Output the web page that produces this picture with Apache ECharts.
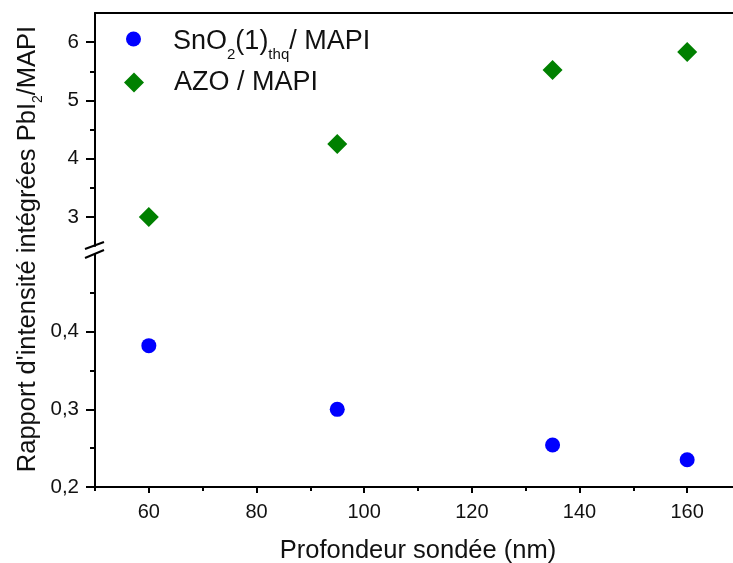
<!DOCTYPE html>
<html>
<head>
<meta charset="utf-8">
<script src="https://cdn.jsdelivr.net/npm/echarts@6/dist/echarts.min.js"></script>
<style>html,body{margin:0;padding:0;background:#fff}#c{width:733px;height:563px}</style>
</head>
<body>
<div id="c"></div>
<script>
// ---- data ----
const depth = [60, 95, 135, 160];
const sno2 = [0.382, 0.300, 0.254, 0.235];
const azo = [3.00, 4.25, 5.52, 5.83];
const xMajorTicks = [60, 80, 100, 120, 140, 160];
const xMinorTicks = [50, 70, 90, 110, 130, 150, 170];
const yTopMajor = [3, 4, 5, 6];
const yTopMinor = [3.5, 4.5, 5.5];
const yBotMajor = [0.2, 0.3, 0.4];
const yBotMinor = [0.25, 0.35, 0.45];

const FONT = '"Liberation Sans", Arial, sans-serif';
const INK = '#111';
const LINE = { show: true, onZero: false, lineStyle: { color: '#000', width: 2 } };

const chart = echarts.init(document.getElementById('c'), null, { renderer: 'canvas' });

function pair(a, b) { return a.map((v, i) => [v, b[i]]); }
const comma = v => String(+v.toFixed(2)).replace('.', ',');

const option = {
  animation: false,
  backgroundColor: '#fff',
  textStyle: { fontFamily: FONT },
  grid: [
    { left: 95, right: -8, top: 13, height: 233, containLabel: false, outerBoundsMode: 'none' },
    { left: 95, right: -8, top: 254, bottom: 76, containLabel: false, outerBoundsMode: 'none' }
  ],
  xAxis: [
    { type: 'value', gridIndex: 0, min: 50, max: 170, position: 'top',
      axisLine: LINE, axisTick: { show: false }, axisLabel: { show: false }, splitLine: { show: false } },
    { type: 'value', gridIndex: 1, min: 50, max: 170, position: 'bottom',
      name: 'Profondeur sondée (nm)', nameLocation: 'middle', nameGap: 51,
      nameTextStyle: { fontSize: 25.5, color: INK, fontFamily: FONT },
      axisLine: LINE,
      axisTick: { show: true, inside: false, length: 6, customValues: xMajorTicks, lineStyle: { color: '#000', width: 2 } },
      axisLabel: { show: true, customValues: xMajorTicks, fontSize: 20, color: INK, margin: 15, fontFamily: FONT },
      splitLine: { show: false } },
    { type: 'value', gridIndex: 1, min: 50, max: 170, position: 'bottom',
      axisLine: { show: false },
      axisTick: { show: true, inside: false, length: 4, customValues: xMinorTicks, lineStyle: { color: '#000', width: 2 } },
      axisLabel: { show: false }, splitLine: { show: false } }
  ],
  yAxis: [
    { type: 'value', gridIndex: 0, min: 2.5, max: 6.5, position: 'left',
      axisLine: LINE,
      axisTick: { show: true, length: 9, customValues: yTopMajor, lineStyle: { color: '#000', width: 2 } },
      axisLabel: { show: true, customValues: yTopMajor, fontSize: 20.5, color: INK, margin: 16, fontFamily: FONT },
      splitLine: { show: false } },
    { type: 'value', gridIndex: 0, min: 2.5, max: 6.5, position: 'left',
      axisLine: { show: false },
      axisTick: { show: true, length: 5, customValues: yTopMinor, lineStyle: { color: '#000', width: 2 } },
      axisLabel: { show: false }, splitLine: { show: false } },
    { type: 'value', gridIndex: 1, min: 0.2, max: 0.5, position: 'left',
      axisLine: LINE,
      axisTick: { show: true, length: 9, customValues: yBotMajor, lineStyle: { color: '#000', width: 2 } },
      axisLabel: { show: true, customValues: yBotMajor, formatter: comma, fontSize: 20.5, color: INK, margin: 16, fontFamily: FONT },
      splitLine: { show: false } },
    { type: 'value', gridIndex: 1, min: 0.2, max: 0.5, position: 'left',
      axisLine: { show: false },
      axisTick: { show: true, length: 5, customValues: yBotMinor, lineStyle: { color: '#000', width: 2 } },
      axisLabel: { show: false }, splitLine: { show: false } }
  ],
  legend: [
    { data: ['SnO2'], left: 126, top: 28, padding: 0, orient: 'vertical', itemWidth: 15, itemHeight: 15, icon: 'circle',
      selectedMode: false,
      formatter: () => '{m|SnO}{s|2}{m|(1)}{s|thq}{m|/ MAPI}',
      textStyle: { fontFamily: FONT, fontSize: 27, color: INK, padding: [0, 0, 0, 27],
        rich: {
          m: { fontSize: 27, fontFamily: FONT, color: INK, lineHeight: 32, verticalAlign: 'bottom' },
          s: { fontSize: 15, fontFamily: FONT, color: INK, lineHeight: 32, verticalAlign: 'bottom', padding: [0, 0, -7, 0] }
        } } },
    { data: ['AZO'], left: 124, top: 69, padding: 0, orient: 'vertical', itemWidth: 20, itemHeight: 20, icon: 'diamond',
      selectedMode: false,
      formatter: () => 'AZO / MAPI',
      textStyle: { fontFamily: FONT, fontSize: 27, color: INK, padding: [0, 0, 0, 25] } }
  ],
  graphic: [
    { type: 'text', x: 26, y: 249, rotation: Math.PI / 2,
      style: { text: '{m|Rapport d\'intensité intégrées PbI}{s|2}{m|/MAPI}', align: 'center', verticalAlign: 'middle',
        rich: {
          m: { fontSize: 25.5, fontFamily: FONT, fill: INK, lineHeight: 30, verticalAlign: 'bottom' },
          s: { fontSize: 14, fontFamily: FONT, fill: INK, lineHeight: 30, verticalAlign: 'bottom', padding: [0, 0, -4, 0] }
        } } },
    { type: 'rect', shape: { x: 90, y: 247, width: 10, height: 6 }, style: { fill: '#fff' }, z: 100 },
    { type: 'line', shape: { x1: 85, y1: 249, x2: 104, y2: 242 }, style: { stroke: '#000', lineWidth: 2 }, z: 101 },
    { type: 'line', shape: { x1: 85, y1: 258, x2: 104, y2: 250 }, style: { stroke: '#000', lineWidth: 2 }, z: 101 }
  ],
  series: [
    { name: 'SnO2', type: 'scatter', xAxisIndex: 1, yAxisIndex: 2, symbol: 'circle', symbolSize: 15,
      itemStyle: { color: '#0000FF', opacity: 1 }, data: pair(depth, sno2) },
    { name: 'AZO', type: 'scatter', xAxisIndex: 0, yAxisIndex: 0, symbol: 'diamond', symbolSize: 20,
      itemStyle: { color: '#008000', opacity: 1 }, data: pair(depth, azo) }
  ]
};
chart.setOption(option);
</script>
</body>
</html>
